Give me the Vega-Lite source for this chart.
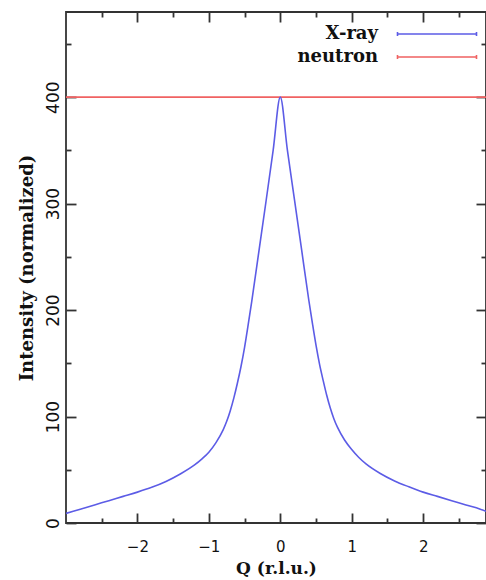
{
  "$schema": "https://vega.github.io/schema/vega-lite/v6.json",
  "width": 420,
  "height": 511,
  "autosize": {"type": "none"},
  "padding": {"left": 66, "top": 12, "right": 0, "bottom": 57},
  "background": "white",
  "config": {
    "view": {"stroke": "#333333", "strokeWidth": 1.8},
    "axis": {"grid": false, "domain": false}
  },
  "datasets": {
    "curves": [
      {"Q": -3.0, "I": 9, "series": "X-ray"},
      {"Q": -2.8, "I": 13, "series": "X-ray"},
      {"Q": -2.6, "I": 17, "series": "X-ray"},
      {"Q": -2.4, "I": 21, "series": "X-ray"},
      {"Q": -2.2, "I": 25, "series": "X-ray"},
      {"Q": -2.0, "I": 29, "series": "X-ray"},
      {"Q": -1.8, "I": 33.5, "series": "X-ray"},
      {"Q": -1.6, "I": 39, "series": "X-ray"},
      {"Q": -1.4, "I": 46, "series": "X-ray"},
      {"Q": -1.2, "I": 54.5, "series": "X-ray"},
      {"Q": -1.1, "I": 60, "series": "X-ray"},
      {"Q": -1.0, "I": 66.5, "series": "X-ray"},
      {"Q": -0.9, "I": 75.5, "series": "X-ray"},
      {"Q": -0.8, "I": 87.5, "series": "X-ray"},
      {"Q": -0.75, "I": 95.5, "series": "X-ray"},
      {"Q": -0.7, "I": 105.5, "series": "X-ray"},
      {"Q": -0.65, "I": 117.5, "series": "X-ray"},
      {"Q": -0.6, "I": 131.5, "series": "X-ray"},
      {"Q": -0.55, "I": 147, "series": "X-ray"},
      {"Q": -0.5, "I": 165, "series": "X-ray"},
      {"Q": -0.45, "I": 186, "series": "X-ray"},
      {"Q": -0.4, "I": 208, "series": "X-ray"},
      {"Q": -0.3, "I": 255, "series": "X-ray"},
      {"Q": -0.2, "I": 302, "series": "X-ray"},
      {"Q": -0.1, "I": 350, "series": "X-ray"},
      {"Q": 0.0, "I": 400, "series": "X-ray"},
      {"Q": 0.1, "I": 350, "series": "X-ray"},
      {"Q": 0.2, "I": 303, "series": "X-ray"},
      {"Q": 0.3, "I": 256, "series": "X-ray"},
      {"Q": 0.4, "I": 209, "series": "X-ray"},
      {"Q": 0.45, "I": 187.5, "series": "X-ray"},
      {"Q": 0.5, "I": 167, "series": "X-ray"},
      {"Q": 0.55, "I": 149, "series": "X-ray"},
      {"Q": 0.6, "I": 134, "series": "X-ray"},
      {"Q": 0.65, "I": 120, "series": "X-ray"},
      {"Q": 0.7, "I": 108, "series": "X-ray"},
      {"Q": 0.75, "I": 98, "series": "X-ray"},
      {"Q": 0.8, "I": 90, "series": "X-ray"},
      {"Q": 0.9, "I": 78, "series": "X-ray"},
      {"Q": 1.0, "I": 69, "series": "X-ray"},
      {"Q": 1.1, "I": 61.5, "series": "X-ray"},
      {"Q": 1.2, "I": 55.5, "series": "X-ray"},
      {"Q": 1.4, "I": 46.5, "series": "X-ray"},
      {"Q": 1.6, "I": 39.5, "series": "X-ray"},
      {"Q": 1.8, "I": 34, "series": "X-ray"},
      {"Q": 2.0, "I": 29, "series": "X-ray"},
      {"Q": 2.2, "I": 25, "series": "X-ray"},
      {"Q": 2.4, "I": 21, "series": "X-ray"},
      {"Q": 2.6, "I": 17, "series": "X-ray"},
      {"Q": 2.8, "I": 13, "series": "X-ray"},
      {"Q": 2.88, "I": 11, "series": "X-ray"},
      {"Q": -3.0, "I": 400, "series": "neutron"},
      {"Q": 2.88, "I": 400, "series": "neutron"}
    ]
  },
  "resolve": {"axis": {"x": "independent", "y": "independent"}},
  "layer": [
    {
      "data": {"name": "curves"},
      "transform": [{"filter": "datum.series === 'neutron'"}],
      "mark": {"type": "line", "strokeWidth": 1.6, "clip": true},
      "encoding": {
        "x": {"field": "Q", "type": "quantitative", "scale": {"domain": [-3, 2.88], "nice": false, "zero": false},
          "axis": {"orient": "bottom", "values": [-2, -1, 0, 1, 2], "offset": -10, "tickSize": 10, "tickColor": "#333333", "tickWidth": 1.8, "labelPadding": 16, "labelFont": "DejaVu Sans", "labelFontSize": 15, "labelColor": "#111111",
            "title": "Q (r.l.u.)", "titleFont": "DejaVu Serif", "titleFontWeight": "bold", "titleFontSize": 17, "titleColor": "#111111", "titlePadding": 6}},
        "y": {"field": "I", "type": "quantitative", "scale": {"domain": [0, 480], "nice": false},
          "axis": {"orient": "left", "values": [0, 100, 200, 300, 400], "offset": -10, "tickSize": 10, "tickColor": "#333333", "tickWidth": 1.8, "labelPadding": 4, "labelAngle": -90, "labelAlign": "center", "labelBaseline": "bottom", "labelOverlap": false, "labelFont": "DejaVu Sans", "labelFontSize": 17, "labelColor": "#111111",
            "title": "Intensity (normalized)", "titleFont": "DejaVu Serif", "titleFontWeight": "bold", "titleFontSize": 18, "titleColor": "#111111", "titlePadding": 8}},
        "color": {"field": "series", "type": "nominal", "scale": {"domain": ["X-ray", "neutron"], "range": ["#5c5ce6", "#f06262"]},
          "legend": {"orient": "none", "legendX": 360, "legendY": 11, "title": null, "rowPadding": 3,
            "symbolType": "M-3.95,0H3.95M-3.95,-0.2V0.2M3.95,-0.2V0.2", "symbolSize": 400, "symbolStrokeWidth": 1.6,
            "labelAlign": "right", "labelOffset": -70, "labelFont": "DejaVu Serif", "labelFontWeight": "bold", "labelFontSize": 18, "labelColor": "#111111"}}
      }
    },
    {
      "data": {"name": "curves"},
      "transform": [{"filter": "datum.series === 'X-ray'"}],
      "mark": {"type": "line", "strokeWidth": 1.6, "interpolate": "monotone", "clip": true},
      "encoding": {
        "x": {"field": "Q", "type": "quantitative", "axis": {"orient": "top", "values": [-2, -1, 0, 1, 2], "offset": -10, "tickSize": 10, "tickColor": "#333333", "tickWidth": 1.8, "labels": false, "title": null}},
        "y": {"field": "I", "type": "quantitative", "axis": {"orient": "right", "values": [0, 100, 200, 300, 400], "offset": -10, "tickSize": 10, "tickColor": "#333333", "tickWidth": 1.8, "labels": false, "title": null}},
        "color": {"field": "series", "type": "nominal"}
      }
    },
    {
      "data": {"name": "curves"},
      "mark": {"type": "point", "opacity": 0},
      "encoding": {
        "x": {"field": "Q", "type": "quantitative", "axis": {"orient": "bottom", "values": [-2.5, -1.5, -0.5, 0.5, 1.5, 2.5], "offset": -5, "tickSize": 5, "tickColor": "#333333", "tickWidth": 1.8, "labels": false, "title": null}},
        "y": {"field": "I", "type": "quantitative", "axis": {"orient": "left", "values": [50, 150, 250, 350, 450], "offset": -5, "tickSize": 5, "tickColor": "#333333", "tickWidth": 1.8, "labels": false, "title": null}}
      }
    },
    {
      "data": {"name": "curves"},
      "mark": {"type": "point", "opacity": 0},
      "encoding": {
        "x": {"field": "Q", "type": "quantitative", "axis": {"orient": "top", "values": [-2.5, -1.5, -0.5, 0.5, 1.5, 2.5], "offset": -5, "tickSize": 5, "tickColor": "#333333", "tickWidth": 1.8, "labels": false, "title": null}},
        "y": {"field": "I", "type": "quantitative", "axis": {"orient": "right", "values": [50, 150, 250, 350, 450], "offset": -5, "tickSize": 5, "tickColor": "#333333", "tickWidth": 1.8, "labels": false, "title": null}}
      }
    }
  ]
}
